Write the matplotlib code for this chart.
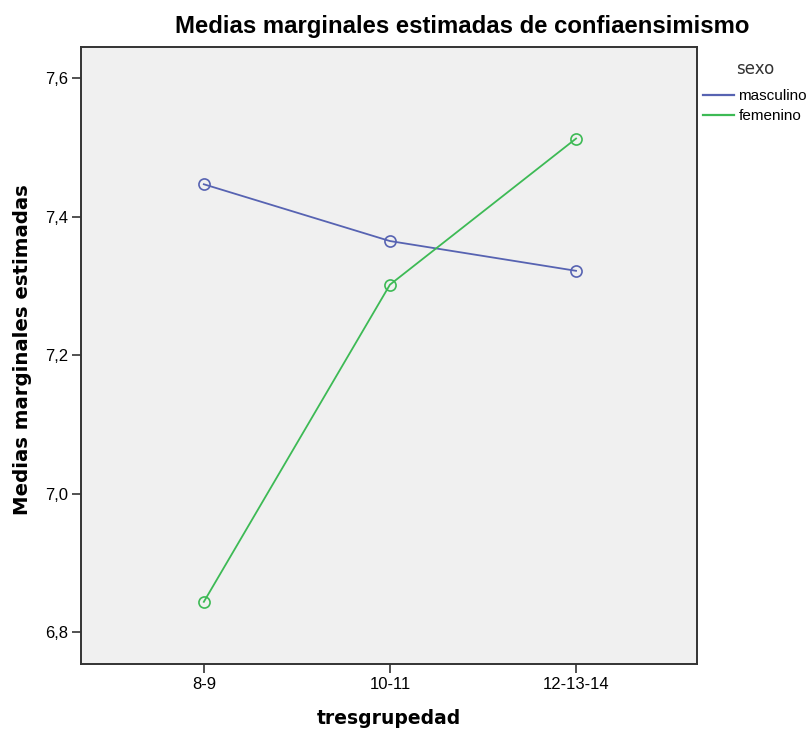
import matplotlib
matplotlib.use("Agg")
import matplotlib.pyplot as plt

categories = ["8-9", "10-11", "12-13-14"]
masculino = [7.447, 7.365, 7.322]
femenino = [6.844, 7.302, 7.513]
series_names = ["masculino", "femenino"]
legend_title = "sexo"
yticks = [6.8, 7.0, 7.2, 7.4, 7.6]
ytick_labels = ["6,8", "7,0", "7,2", "7,4", "7,6"]

plt.rcParams['font.family'] = ['Liberation Sans', 'DejaVu Sans']

fig = plt.figure(figsize=(8.1, 7.31), dpi=100)
ax = fig.add_axes([0.1, 0.0921, 0.7605, 0.8436])
ax.set_facecolor("#F0F0F0")

x = list(range(len(categories)))
ax.plot(x, masculino, color="#5763B2", lw=1.3, marker="o", ms=8,
        mfc="none", mec="#5763B2", mew=1.2, label=series_names[0])
ax.plot(x, femenino, color="#3DBA55", lw=1.3, marker="o", ms=8,
        mfc="none", mec="#3DBA55", mew=1.2, label=series_names[1])

ax.set_xlim(-0.66, 2.65)
ax.set_ylim(6.7547, 7.6452)
ax.set_xticks(x)
ax.set_xticklabels(categories, fontsize=12)
ax.set_yticks(yticks)
ax.set_yticklabels(ytick_labels, fontsize=12)
ax.tick_params(axis="both", length=6.5, width=1.2, color="#333333", pad=3)
for s in ax.spines.values():
    s.set_color("#333333")
    s.set_linewidth(1.4)

ax.set_xlabel("tresgrupedad", fontsize=13.5, fontweight="bold",
              family="DejaVu Sans", labelpad=12)
ax.set_ylabel("Medias marginales estimadas", fontsize=14.2, fontweight="bold",
              family="DejaVu Sans")
ax.yaxis.set_label_coords(-0.080, 0.51)

fig.text(462/810, 1 - 27/731, "Medias marginales estimadas de confiaensimismo",
         ha="center", va="center", fontsize=17.2, fontweight="bold")

fig.text(755/810, 1 - 69/731, legend_title, ha="center", va="center",
         fontsize=12, family="DejaVu Sans", color="#333333")

leg = ax.legend(loc="upper left", bbox_to_anchor=(1.005, 0.937), frameon=False,
                fontsize=11, handlelength=2.0, handletextpad=0.3,
                labelspacing=0.42, borderaxespad=0.0, borderpad=0.2)
for h in leg.legend_handles:
    h.set_marker("")
    h.set_linewidth(1.6)

fig.savefig("out.png", dpi=100)
